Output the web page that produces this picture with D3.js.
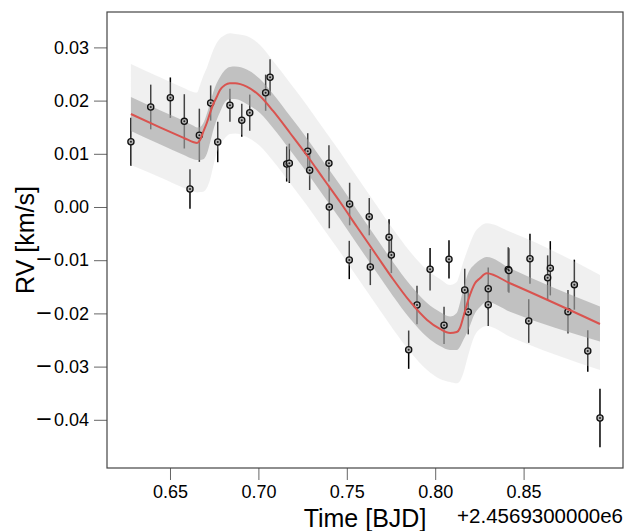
<!DOCTYPE html>
<html>
<head>
<meta charset="utf-8">
<script src="https://cdn.jsdelivr.net/npm/d3@7"></script>
<style>
  html, body { margin: 0; padding: 0; background: #fff; }
  svg { display: block; font-family: "Liberation Sans", Arial, Helvetica, sans-serif; }
</style>
</head>
<body>
<svg id="chart" width="634" height="531"></svg>
<script>
// ---- Observations (time offset from 2456930, RV in km/s, 1-sigma error) ----
const obsTime = [0.6279,0.6391,0.6502,0.6581,0.6613,0.6666,0.6730,0.6770,0.6839,0.6906,0.6951,0.7041,0.7066,
  0.7160,0.7175,0.7279,0.7290,0.7399,0.7401,0.7516,0.7514,0.7627,0.7633,0.7739,0.7752,0.7850,0.7897,0.7971,
  0.8050,0.8078,0.8167,0.8187,0.8300,0.8300,0.8413,0.8417,0.8536,0.8529,0.8636,0.8651,0.8787,0.8751,0.8863,0.8932];
const obsRV = [0.01227,0.0188,0.02055,0.0161,0.00338,0.01348,0.01955,0.01222,0.01912,0.0163,0.01773,0.02148,0.02438,
  0.00808,0.00821,0.01047,0.0069,0.00821,0.0000,0.00056,-0.00996,-0.00182,-0.01128,-0.0057,-0.00902,-0.02682,-0.01842,-0.01171,
  -0.02224,-0.00983,-0.0156,-0.01974,-0.01536,-0.01836,-0.01175,-0.01194,-0.00972,-0.02143,-0.01329,-0.01152,-0.0146,-0.01968,-0.02707,-0.03966];
const obsErr = [0.0045,0.0042,0.0038,0.0051,0.0037,0.0050,0.0033,0.0038,0.0031,0.0031,0.0034,0.0034,0.0034,
  0.0033,0.0037,0.0034,0.0037,0.0034,0.0040,0.0040,0.0036,0.0035,0.0034,0.0034,0.0034,0.0036,0.0036,0.0040,
  0.0035,0.0036,0.0040,0.0042,0.0040,0.0040,0.0042,0.0042,0.0047,0.0041,0.0042,0.0051,0.0047,0.0041,0.0039,0.0055];

// ---- Model curve and credible bands ----
const modelTime = [0.6279,0.6443,0.6585,0.6630,0.6653,0.6670,0.6688,0.6708,0.6726,0.6745,0.6764,0.6783,0.6811,0.6839,0.6868,
  0.6934,0.7009,0.7083,0.7179,0.7275,0.7365,0.7462,0.7558,0.7671,0.7761,0.7857,0.7954,0.8027,0.8084,0.8122,0.8140,0.8159,
  0.8187,0.8225,0.8253,0.8291,0.8423,0.8932];
const modelRV = [0.01748,0.01498,0.01288,0.01222,0.01203,0.01259,0.01410,0.01579,0.01761,0.01936,0.02068,0.02199,0.02293,0.02325,0.02325,
  0.02261,0.02086,0.01805,0.01391,0.00968,0.00545,0.00094,-0.00376,-0.00921,-0.01353,-0.01776,-0.02124,-0.02293,-0.02368,-0.02350,-0.02274,-0.02068,
  -0.01748,-0.01434,-0.01340,-0.01246,-0.01434,-0.02199];
const innerHi = [0.02068,0.01818,0.01607,0.01532,0.01494,0.01504,0.01573,0.01748,0.01949,0.02162,0.02325,0.02444,0.02575,0.02632,0.02641,
  0.02585,0.02406,0.02124,0.01711,0.01288,0.00865,0.00414,-0.00056,-0.00602,-0.01034,-0.01457,-0.01805,-0.01974,-0.02058,-0.01992,-0.01805,-0.01541,
  -0.01241,-0.01071,-0.00996,-0.00940,-0.01152,-0.01870];
const innerLo = [0.01429,0.01179,0.00968,0.00902,0.00883,0.00883,0.00897,0.00996,0.01203,0.01447,0.01635,0.01786,0.01974,0.02030,0.02030,
  0.01936,0.01767,0.01485,0.01071,0.00648,0.00226,-0.00226,-0.00695,-0.01241,-0.01673,-0.02096,-0.02444,-0.02613,-0.02688,-0.02688,-0.02626,-0.02500,
  -0.02312,-0.01998,-0.01880,-0.01786,-0.01968,-0.02528];
const outerHi = [0.02688,0.02438,0.02227,0.02162,0.02152,0.02293,0.02462,0.02613,0.02782,0.02951,0.03083,0.03167,0.03233,0.03265,0.03252,
  0.03214,0.03045,0.02744,0.02331,0.01908,0.01485,0.01034,0.00564,0.00019,-0.00414,-0.00836,-0.01184,-0.01353,-0.01466,-0.01410,-0.01246,-0.01034,
  -0.00771,-0.00470,-0.00370,-0.00306,-0.00464,-0.01278];
const outerLo = [0.00789,0.00558,0.00348,0.00291,0.00273,0.00282,0.00288,0.00357,0.00508,0.00771,0.01009,0.01165,0.01297,0.01372,0.01382,
  0.01316,0.01147,0.00865,0.00451,0.00028,-0.00395,-0.00846,-0.01316,-0.01861,-0.02293,-0.02716,-0.03064,-0.03233,-0.03289,-0.03314,-0.03271,-0.03126,
  -0.02782,-0.02406,-0.02293,-0.02237,-0.02438,-0.03064];

// ---- Axis ticks ----
const xTicks = [0.65, 0.70, 0.75, 0.80, 0.85];
const yTicks = [0.03, 0.02, 0.01, 0.00, -0.01, -0.02, -0.03, -0.04];
const xLabel = "Time [BJD]";
const yLabel = "RV [km/s]";
const offsetLabel = "+2.4569300000e6";

const svg = d3.select("#chart");
const L = 107, R = 623, T = 12, B = 468;
const x = d3.scaleLinear().domain([0.61437, 0.90622]).range([L, R]);
const y = d3.scaleLinear().domain([-0.04906, 0.036654]).range([B, T]);

const obs = obsTime.map((t, i) => ({t, v: obsRV[i], e: obsErr[i]}));
const model = modelTime.map((t, i) => ({t, v: modelRV[i], ih: innerHi[i], il: innerLo[i], oh: outerHi[i], ol: outerLo[i]}));

// error bars (under the bands)
svg.append("g").selectAll("line").data(obs).join("line")
  .attr("x1", d => x(d.t)).attr("x2", d => x(d.t))
  .attr("y1", d => y(d.v - d.e)).attr("y2", d => y(d.v + d.e))
  .attr("stroke", "#000").attr("stroke-width", 1.5);

const curve = d3.curveMonotoneX;
svg.append("path").datum(model)
  .attr("d", d3.area().x(d => x(d.t)).y0(d => y(d.ol)).y1(d => y(d.oh)).curve(curve))
  .attr("fill", "rgb(209,209,209)").attr("fill-opacity", 0.325);
svg.append("path").datum(model)
  .attr("d", d3.area().x(d => x(d.t)).y0(d => y(d.il)).y1(d => y(d.ih)).curve(curve))
  .attr("fill", "rgb(157,157,157)").attr("fill-opacity", 0.576);

// markers
const mk = svg.append("g");
mk.selectAll("circle.o").data(obs).join("circle").attr("class", "o")
  .attr("cx", d => x(d.t)).attr("cy", d => y(d.v)).attr("r", 3.1)
  .attr("fill", "#b5b5b5").attr("stroke", "#111").attr("stroke-width", 1.3);
mk.selectAll("circle.i").data(obs).join("circle").attr("class", "i")
  .attr("cx", d => x(d.t)).attr("cy", d => y(d.v)).attr("r", 1.0)
  .attr("fill", "#222");

// model line
svg.append("path").datum(model)
  .attr("d", d3.line().x(d => x(d.t)).y(d => y(d.v)).curve(curve))
  .attr("fill", "none").attr("stroke", "#d9534f").attr("stroke-width", 2);

// axes
const xAxis = svg.append("g").attr("transform", `translate(0,${B})`)
  .call(d3.axisBottom(x).tickValues(xTicks).tickFormat(d3.format(".2f")).tickSize(12).tickPadding(5));
const yAxis = svg.append("g").attr("transform", `translate(${L},0)`)
  .call(d3.axisLeft(y).tickValues(yTicks).tickFormat(d3.format(".2f")).tickSize(13).tickPadding(5));
[xAxis, yAxis].forEach(g => {
  g.select(".domain").remove();
  g.selectAll(".tick line").attr("stroke", "#666").attr("stroke-width", 1);
  g.selectAll(".tick text").attr("fill", "#000").style("font-size", "18px")
    .style("font-family", '"Liberation Sans", Arial, sans-serif');
});
// longer minus sign, as in the reference
yAxis.selectAll(".tick text").each(function() {
  const s = d3.select(this), t = s.text();
  if (t.startsWith("\u2212")) {
    s.text(null);
    s.append("tspan").style("font-family", '"DejaVu Sans", sans-serif').style("font-size", "21px").text("\u2212");
    s.append("tspan").attr("dx", 1).text(t.slice(1));
  }
});

// frame
svg.append("rect").attr("x", L).attr("y", T).attr("width", R - L).attr("height", B - T)
  .attr("fill", "none").attr("stroke", "#444").attr("stroke-width", 1.2);

// labels
svg.append("text").attr("x", (L + R) / 2).attr("y", 527).attr("text-anchor", "middle")
  .style("font-size", "25px").text(xLabel);
svg.append("text").attr("transform", `translate(34,${(T + B) / 2}) rotate(-90)`).attr("text-anchor", "middle")
  .style("font-size", "25px").text(yLabel);
svg.append("text").attr("x", R).attr("y", 523).attr("text-anchor", "end")
  .style("font-size", "20.5px").text(offsetLabel);
</script>
</body>
</html>
